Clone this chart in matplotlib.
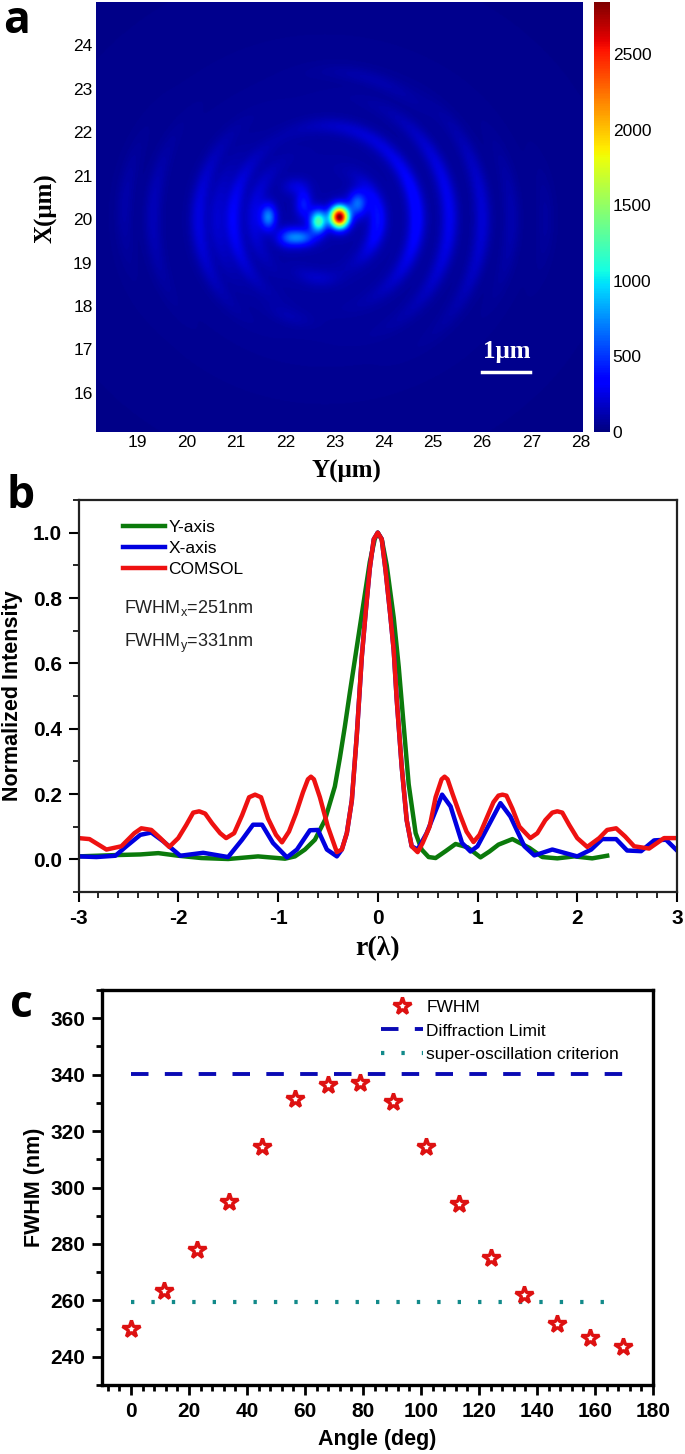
#!/usr/bin/env python

import matplotlib
matplotlib.use('Agg')
import matplotlib.pyplot as plt
import numpy as np
from matplotlib.ticker import MultipleLocator

plt.rcParams['font.family'] = ['Liberation Sans', 'DejaVu Sans']
plt.rcParams['axes.unicode_minus'] = False

W, H = 685., 1454.

# panel a, bright spots: x, y, sigma x, sigma y, height
spot_x = [23.10, 22.67, 23.47, 21.65, 22.33, 22.05, 22.37, 22.20, 22.8]
spot_y = [20.05, 19.95, 20.36, 20.05, 19.58, 19.58, 20.35, 20.75, 20.0]
spot_sx = [0.13, 0.12, 0.13, 0.11, 0.19, 0.16, 0.11, 0.17, 2.4]
spot_sy = [0.17, 0.18, 0.2, 0.2, 0.14, 0.15, 0.22, 0.14, 2.4]
spot_h = [2750, 1150, 560, 640, 520, 360, 320, 130, 70]

# panel a, fringes: radius (um), arc centre (deg), half width (deg), height
ring_r = [1.08, 1.87, 2.54, 3.21, 3.8, 4.5, 1.87, 2.57, 3.5, 4.08, 1.45, 2.2, 1.9, 3.0, 1.2, 2.1]
ring_mid = [0, 5, 5, 0, 0, 0, 180, 180, 178, 175, 175, 180, 75, 70, 262, 250]
ring_half = [50, 55, 52, 40, 25, 15, 45, 40, 28, 20, 45, 35, 40, 25, 25, 15]
ring_h = [300, 280, 210, 150, 70, 40, 230, 170, 90, 60, 150, 120, 90, 60, 90, 50]

# panel b
y_axis_x = [-3, -2.63, -2.38, -2.2, -2.0, -1.77, -1.5, -1.2, -0.93, -0.83, -0.73, -0.63, -0.53, -0.43, -0.38,
            -0.33, -0.28, -0.23, -0.18, -0.13, -0.08, -0.03, 0.0, 0.04, 0.09, 0.16, 0.21, 0.26, 0.31, 0.38,
            0.44, 0.51, 0.58, 0.68, 0.78, 0.9, 1.03, 1.12, 1.21, 1.35, 1.52, 1.65, 1.8, 1.97, 2.15, 2.3]
y_axis_i = [0.009, 0.013, 0.015, 0.019, 0.011, 0.004, 0.001, 0.009, 0.002, 0.009, 0.03, 0.06, 0.12, 0.223, 0.31,
            0.406, 0.51, 0.61, 0.71, 0.81, 0.91, 0.98, 1.0, 0.98, 0.9, 0.74, 0.59, 0.41, 0.23, 0.08,
            0.03, 0.007, 0.004, 0.025, 0.047, 0.037, 0.006, 0.024, 0.045, 0.062, 0.035, 0.007, 0.003, 0.009, 0.003, 0.011]
x_axis_x = [-3, -2.82, -2.63, -2.52, -2.38, -2.27, -2.15, -1.98, -1.75, -1.5, -1.36, -1.25, -1.16,
            -1.05, -0.91, -0.81, -0.68, -0.6, -0.51, -0.41, -0.36, -0.31, -0.26, -0.21, -0.16, -0.12, -0.08, -0.04, 0.0,
            0.04, 0.08, 0.125, 0.16, 0.19, 0.24, 0.29, 0.34, 0.4, 0.49, 0.645, 0.73, 0.845, 0.93, 1.0, 1.23,
            1.33, 1.47, 1.57, 1.75, 2.0, 2.14, 2.25, 2.39, 2.5, 2.64, 2.77, 2.89, 3]
x_axis_i = [0.009, 0.007, 0.011, 0.04, 0.075, 0.082, 0.055, 0.011, 0.02, 0.007, 0.06, 0.106, 0.106,
            0.05, 0.006, 0.03, 0.089, 0.09, 0.03, 0.009, 0.03, 0.08, 0.18, 0.38, 0.62, 0.76, 0.89, 0.98, 1.0,
            0.98, 0.88, 0.75, 0.64, 0.49, 0.284, 0.12, 0.04, 0.03, 0.08, 0.198, 0.162, 0.05, 0.024, 0.04, 0.172,
            0.131, 0.04, 0.012, 0.03, 0.009, 0.03, 0.062, 0.062, 0.027, 0.025, 0.058, 0.06, 0.027]
comsol_x = [-3, -2.89, -2.72, -2.57, -2.44, -2.37, -2.27, -2.18, -2.09, -2.0, -1.92, -1.85, -1.79, -1.73, -1.66, -1.58, -1.52,
            -1.44, -1.36, -1.29, -1.23, -1.17, -1.1, -1.02, -0.96, -0.89, -0.82, -0.75, -0.70, -0.67, -0.64, -0.58, -0.5, -0.41,
            -0.36, -0.31, -0.26, -0.21, -0.16, -0.12, -0.08, -0.04, 0.0, 0.04, 0.08, 0.125, 0.16, 0.19, 0.24, 0.29,
            0.34, 0.4, 0.45, 0.52, 0.58, 0.64, 0.67, 0.7, 0.75, 0.82, 0.89, 0.96, 1.02, 1.09, 1.16, 1.21, 1.25, 1.29, 1.35, 1.42, 1.53,
            1.6, 1.68, 1.75, 1.8, 1.85, 1.92, 2.0, 2.1, 2.22, 2.3, 2.39, 2.48, 2.57, 2.72, 2.87, 3]
comsol_i = [0.065, 0.062, 0.03, 0.04, 0.08, 0.095, 0.09, 0.065, 0.038, 0.065, 0.105, 0.143, 0.147, 0.14, 0.11, 0.08, 0.065,
            0.08, 0.135, 0.19, 0.198, 0.19, 0.125, 0.075, 0.052, 0.085, 0.14, 0.205, 0.245, 0.253, 0.245, 0.19, 0.1, 0.022,
            0.03, 0.08, 0.18, 0.38, 0.62, 0.76, 0.89, 0.98, 1.0, 0.98, 0.88, 0.75, 0.64, 0.49, 0.284, 0.12,
            0.04, 0.022, 0.05, 0.1, 0.19, 0.245, 0.253, 0.245, 0.2, 0.14, 0.085, 0.053, 0.075, 0.125, 0.175, 0.195, 0.198, 0.195, 0.155, 0.1, 0.065,
            0.08, 0.12, 0.143, 0.147, 0.143, 0.105, 0.065, 0.038, 0.065, 0.09, 0.095, 0.07, 0.04, 0.033, 0.065, 0.065]

# panel c
angle = [0, 11.3, 22.6, 33.9, 45.2, 56.5, 67.8, 79.1, 90.4, 101.7, 113, 124.3, 135.6, 146.9, 158.2, 169.5]
fwhm = [250, 263.3, 278, 295, 314.5, 331.2, 336.5, 337, 330.3, 314.5, 294, 275, 261.8, 251.5, 246.5, 243.6]
limit_x = [0, 169.5]
limit_y = [340.4, 340.4]
criterion_x = [0, 169]
criterion_y = [259.4, 259.4]


def axes_px(left, top, right, bottom):
    return fig.add_axes([left / W, 1 - bottom / H, (right - left) / W, (bottom - top) / H])


fig = plt.figure(figsize=(6.85, 14.54), dpi=100)

# a
ax = axes_px(96, 2, 583, 432)
xx, yy = np.meshgrid(np.linspace(18.15, 28.05, 500), np.linspace(15.1, 25.0, 500))
field = np.full(xx.shape, 30.)
for x0, y0, sx, sy, h in zip(spot_x, spot_y, spot_sx, spot_sy, spot_h):
    field += h * np.exp(-(xx - x0)**2 / (2 * sx**2) - (yy - y0)**2 / (2 * sy**2))
dx = xx - 22.8
dy = (yy - 20.0) * 0.88
rad = np.hypot(dx, dy)
theta = np.degrees(np.arctan2(dy, dx))
for r0, mid, half, h in zip(ring_r, ring_mid, ring_half, ring_h):
    off = (theta - mid + 180) % 360 - 180
    field += h * np.exp(-(rad - r0)**2 / (2 * 0.12**2)) * np.exp(-off**2 / (2 * (half * 0.6)**2))
im = ax.imshow(field, origin='lower', extent=[18.15, 28.05, 15.1, 25.0], cmap='jet',
               vmin=0, vmax=2843, aspect='auto', interpolation='bilinear')
ax.set_xticks(range(19, 29))
ax.set_yticks(range(16, 25))
ax.tick_params(labelsize=12.5, length=0, pad=2.5)
for s in ax.spines.values():
    s.set_visible(False)
ax.set_xlabel('Y(μm)', family='Liberation Serif', fontweight='bold', fontsize=18)
ax.set_ylabel('X(μm)', family='Liberation Serif', fontweight='bold', fontsize=18)
ax.xaxis.set_label_coords((346 - 96) / 487., -(471 - 432) / 430., transform=ax.transAxes)
ax.yaxis.set_label_coords(-(96 - 46) / 487., (432 - 208) / 430., transform=ax.transAxes)
ax.xaxis.label.set_va('center')
ax.yaxis.label.set_va('center')
ax.plot([26.0, 26.98], [16.48, 16.48], color='white', lw=2.5)
ax.text(26.49, 16.68, '1μm', color='white', family='Liberation Serif', fontweight='bold',
        fontsize=18, ha='center', va='bottom')
ax.set_xlim(18.15, 28.05)
ax.set_ylim(15.1, 25.0)

cax = axes_px(594, 2, 610, 432)
cb = fig.colorbar(im, cax=cax)
cb.set_ticks(range(0, 2501, 500))
cb.ax.tick_params(labelsize=12.5, length=0, pad=2)
cb.outline.set_visible(False)

# b
ax = axes_px(78.5, 500, 677, 892)
ax.plot(y_axis_x, y_axis_i, color='#0b7a0b', lw=3.2, label='Y-axis', solid_joinstyle='round')
ax.plot(x_axis_x, x_axis_i, color='#0000e0', lw=3.2, label='X-axis', solid_joinstyle='round')
ax.plot(comsol_x, comsol_i, color='#ee1111', lw=3.2, label='COMSOL', solid_joinstyle='round')
ax.set_xlim(-3, 3)
ax.set_ylim(-0.1, 1.1)
ax.xaxis.set_major_locator(MultipleLocator(1))
ax.xaxis.set_minor_locator(MultipleLocator(0.2))
ax.yaxis.set_minor_locator(MultipleLocator(0.1))
ax.set_yticks(np.arange(0, 1.01, 0.2))
ax.tick_params(which='major', length=7, width=1.5, labelsize=15, pad=5)
ax.tick_params(which='minor', length=4, width=1.2)
for lab in ax.get_xticklabels() + ax.get_yticklabels():
    lab.set_fontweight('bold')
for s in ax.spines.values():
    s.set_linewidth(1.6)
    s.set_color('#222222')
ax.set_xlabel('r(λ)', family='Liberation Serif', fontweight='bold', fontsize=20, labelpad=6)
ax.set_ylabel('Normalized Intensity', fontweight='bold', fontsize=15.5, labelpad=7)
ax.legend(loc='upper left', bbox_to_anchor=(0.0744, 0.95), frameon=False, fontsize=12.5, handlelength=2.4,
          handletextpad=0.2, labelspacing=0.35, borderpad=0, borderaxespad=0)
ax.text(-2.54, 0.77, 'FWHM$_{\\mathregular{x}}$=251nm', fontsize=13, va='center', color='#222222')
ax.text(-2.54, 0.66, 'FWHM$_{\\mathregular{y}}$=331nm', fontsize=13, va='center', color='#222222')

# c
ax = axes_px(102, 990, 653, 1385)
ax.plot(limit_x, limit_y, color='#0a0ab4', lw=2.8, dashes=(4.5, 4.2), label='Diffraction Limit')
ax.plot(criterion_x, criterion_y, color='#128a8a', lw=3, linestyle=(0, (0.8, 4.1)), label='super-oscillation criterion')
ax.plot(angle, fwhm, linestyle='none', marker='*', ms=13, mfc='white', mec='#dd1111', mew=2.4, label='FWHM')
ax.set_xlim(-10, 180)
ax.set_ylim(230, 370)
ax.xaxis.set_major_locator(MultipleLocator(20))
ax.xaxis.set_minor_locator(MultipleLocator(4))
ax.yaxis.set_major_locator(MultipleLocator(20))
ax.yaxis.set_minor_locator(MultipleLocator(10))
ax.tick_params(which='major', length=7, width=2, labelsize=15, pad=5)
ax.tick_params(which='minor', length=4, width=2)
for lab in ax.get_xticklabels() + ax.get_yticklabels():
    lab.set_fontweight('bold')
for s in ax.spines.values():
    s.set_linewidth(2.4)
ax.set_xlabel('Angle (deg)', fontweight='bold', fontsize=15.5, labelpad=6)
ax.set_ylabel('FWHM (nm)', fontweight='bold', fontsize=15.5, labelpad=4)
h, l = ax.get_legend_handles_labels()
ax.legend([h[2], h[0], h[1]], [l[2], l[0], l[1]], loc='upper left', bbox_to_anchor=(279. / 551, 0.975),
          frameon=False, fontsize=12.5, handlelength=2.4, handletextpad=0.2, labelspacing=0.48,
          borderpad=0, borderaxespad=0, numpoints=1)

# panel letters
for txt, xp, yp in zip(['a', 'b', 'c'], [3, 7, 10], [33, 508, 1017]):
    fig.text(xp / W, 1 - yp / H, txt, family='Open Sans', fontweight='bold', fontsize=32, va='baseline')

fig.savefig('out.png', dpi=100)
